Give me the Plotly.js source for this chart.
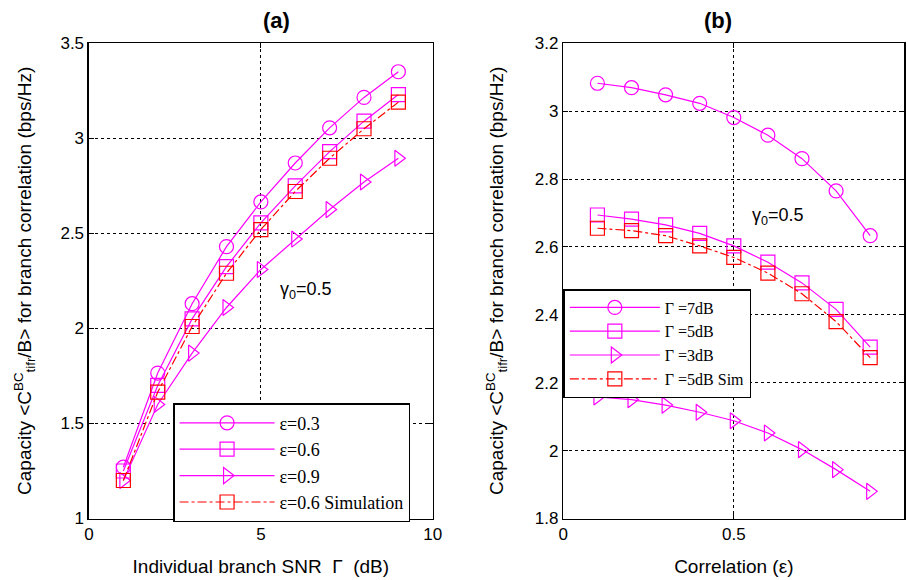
<!DOCTYPE html>
<html>
<head>
<meta charset="utf-8">
<script src="https://cdn.plot.ly/plotly-3.0.1.min.js"></script>
<style>html,body{margin:0;padding:0;background:#fff}#chart{width:908px;height:580px}</style>
</head>
<body>
<div id="chart"></div>
<script>
// Panel (a): capacity vs individual branch SNR (dB)
const snrDb = [1, 2, 3, 4, 5, 6, 7, 8, 9];
const capEps03 = [1.27, 1.765, 2.13, 2.43, 2.665, 2.87, 3.055, 3.215, 3.35];
const capEps06 = [1.25, 1.70, 2.05, 2.325, 2.555, 2.75, 2.93, 3.09, 3.23];
const capEps09 = [1.20, 1.60, 1.87, 2.11, 2.31, 2.47, 2.625, 2.77, 2.895];
const capEps06Sim = [1.20, 1.665, 2.01, 2.29, 2.52, 2.72, 2.895, 3.05, 3.19];

// Panel (b): capacity vs correlation
const corr = [0.1, 0.2, 0.3, 0.4, 0.5, 0.6, 0.7, 0.8, 0.9];
const capG7 = [3.082, 3.069, 3.048, 3.023, 2.981, 2.929, 2.86, 2.765, 2.633];
const capG5 = [2.694, 2.682, 2.665, 2.64, 2.603, 2.555, 2.494, 2.416, 2.305];
const capG3 = [2.158, 2.15, 2.134, 2.113, 2.088, 2.052, 2.003, 1.944, 1.88];
const capG5Sim = [2.655, 2.648, 2.633, 2.603, 2.569, 2.523, 2.462, 2.38, 2.274];

const namesA = ['ε=0.3', 'ε=0.6', 'ε=0.9', 'ε=0.6 Simulation'];
const namesB = ['Γ =7dB', 'Γ =5dB', 'Γ =3dB', 'Γ =5dB Sim'];

const MAG = '#ff00ff', RED = '#ff0000';
function tr(x, y, name, sym, color, dash, xa, ya, leg) {
  return {
    x: x, y: y, name: name, type: 'scatter', mode: 'lines+markers',
    xaxis: xa, yaxis: ya, legend: leg,
    line: {color: color, width: 1.2, dash: dash},
    marker: {symbol: sym, size: 14, color: color, line: {color: color, width: 1.2}}
  };
}

const data = [
  tr(snrDb, capEps03, namesA[0], 'circle-open', MAG, 'solid', 'x', 'y', 'legend'),
  tr(snrDb, capEps06, namesA[1], 'square-open', MAG, 'solid', 'x', 'y', 'legend'),
  tr(snrDb, capEps09, namesA[2], 'triangle-right-open', MAG, 'solid', 'x', 'y', 'legend'),
  tr(snrDb, capEps06Sim, namesA[3], 'square-open', RED, 'dashdot', 'x', 'y', 'legend'),
  tr(corr, capG7, namesB[0], 'circle-open', MAG, 'solid', 'x2', 'y2', 'legend2'),
  tr(corr, capG5, namesB[1], 'square-open', MAG, 'solid', 'x2', 'y2', 'legend2'),
  tr(corr, capG3, namesB[2], 'triangle-right-open', MAG, 'solid', 'x2', 'y2', 'legend2'),
  tr(corr, capG5Sim, namesB[3], 'square-open', RED, 'dashdot', 'x2', 'y2', 'legend2')
];

const tickFont = {family: 'Liberation Sans, Arial, sans-serif', size: 17, color: '#000'};
const titleFont = {family: 'Liberation Sans, Arial, sans-serif', size: 19, color: '#000'};
function ax(extra) {
  return Object.assign({
    showline: true, linecolor: '#000', linewidth: 1.5, mirror: 'allticks',
    ticks: 'inside', ticklen: 5, tickcolor: '#000', tickwidth: 1,
    showgrid: true, gridcolor: '#000', griddash: 'dot', gridwidth: 1,
    zeroline: false, tickfont: tickFont
  }, extra);
}
const yTitle = 'Capacity &lt;C<sup>BC</sup><sub>tifr</sub>/B&gt; for branch correlation (bps/Hz)';
const legFontA = {family: 'Liberation Serif, Times New Roman, serif', size: 18, color: '#000'};
const legFontB = {family: 'Liberation Serif, Times New Roman, serif', size: 16, color: '#000'};

const layout = {
  width: 908, height: 580,
  margin: {l: 0, r: 0, t: 0, b: 0},
  paper_bgcolor: '#fff', plot_bgcolor: '#fff',
  xaxis: ax({domain: [0.098, 0.4766], range: [0, 10], dtick: 5, anchor: 'y',
    title: {text: 'Individual branch SNR  Γ  (dB)', font: titleFont, standoff: 16}}),
  yaxis: ax({domain: [0.106, 0.9255], range: [1, 3.5], dtick: 0.5, anchor: 'x',
    title: {text: yTitle, font: titleFont, standoff: 24}}),
  xaxis2: ax({domain: [0.6204, 0.9959], range: [0, 1], dtick: 0.5, anchor: 'y2',
    title: {text: 'Correlation (ε)', font: titleFont, standoff: 16}}),
  yaxis2: ax({domain: [0.106, 0.9255], range: [1.8, 3.2], dtick: 0.2, anchor: 'x2',
    title: {text: yTitle, font: titleFont, standoff: 26}}),
  legend: {x: 0.1906, y: 0.305, xanchor: 'left', yanchor: 'top', bgcolor: '#fff',
    bordercolor: '#000', borderwidth: 1.5, font: legFontA, itemwidth: 95, tracegroupgap: 0},
  legend2: {x: 0.6204, y: 0.5017, xanchor: 'left', yanchor: 'top', bgcolor: '#fff',
    bordercolor: '#000', borderwidth: 1.5, font: legFontB, itemwidth: 90, tracegroupgap: 0},
  showlegend: true,
  annotations: [
    {text: '<b>(a)</b>', xref: 'paper', yref: 'paper', x: 0.287, y: 0.99, yanchor: 'top', showarrow: false,
     font: {family: 'Liberation Sans, Arial, sans-serif', size: 22, color: '#000'}},
    {text: '<b>(b)</b>', xref: 'paper', yref: 'paper', x: 0.808, y: 0.99, yanchor: 'top', showarrow: false,
     font: {family: 'Liberation Sans, Arial, sans-serif', size: 22, color: '#000'}},
    {text: 'γ<sub>0</sub>=0.5', xref: 'x', yref: 'y', x: 6.3, y: 2.2, showarrow: false,
     font: {family: 'Liberation Sans, Arial, sans-serif', size: 18, color: '#000'}},
    {text: 'γ<sub>0</sub>=0.5', xref: 'x2', yref: 'y2', x: 0.63, y: 2.69, showarrow: false,
     font: {family: 'Liberation Sans, Arial, sans-serif', size: 18, color: '#000'}}
  ]
};

Plotly.newPlot('chart', data, layout, {displayModeBar: false, staticPlot: true});
</script>
</body>
</html>
